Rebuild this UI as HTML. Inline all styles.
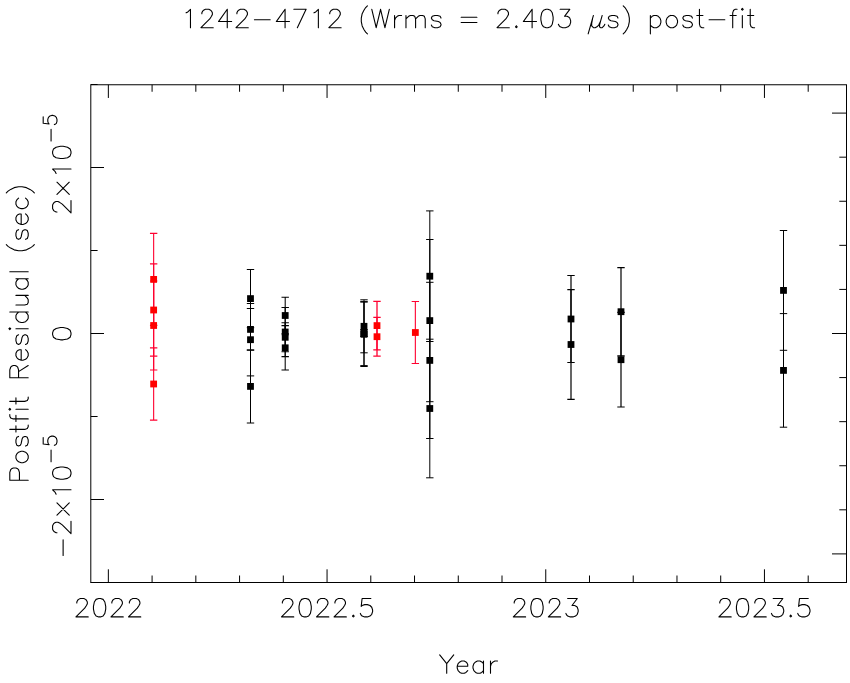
<!DOCTYPE html>
<html><head><meta charset="utf-8"><title>1242-4712 post-fit residuals</title>
<style>html,body{margin:0;padding:0;background:#fff;width:850px;height:683px;overflow:hidden;font-family:"Liberation Sans",sans-serif}svg{display:block}</style>
</head><body>
<svg width="850" height="683" viewBox="0 0 850 683">
<rect width="850" height="683" fill="#fff"/>
<g fill="none" stroke="#000" stroke-width="1">
<path d="M108.35 582.5L108.35 569.3M108.35 84.76L108.35 97.96M152.09 582.5L152.09 575.5M152.09 84.76L152.09 91.76M195.83 582.5L195.83 575.5M195.83 84.76L195.83 91.76M239.57 582.5L239.57 575.5M239.57 84.76L239.57 91.76M283.31 582.5L283.31 575.5M283.31 84.76L283.31 91.76M327.05 582.5L327.05 569.3M327.05 84.76L327.05 97.96M370.79 582.5L370.79 575.5M370.79 84.76L370.79 91.76M414.53 582.5L414.53 575.5M414.53 84.76L414.53 91.76M458.27 582.5L458.27 575.5M458.27 84.76L458.27 91.76M502.01 582.5L502.01 575.5M502.01 84.76L502.01 91.76M545.75 582.5L545.75 569.3M545.75 84.76L545.75 97.96M589.49 582.5L589.49 575.5M589.49 84.76L589.49 91.76M633.23 582.5L633.23 575.5M633.23 84.76L633.23 91.76M676.97 582.5L676.97 575.5M676.97 84.76L676.97 91.76M720.71 582.5L720.71 575.5M720.71 84.76L720.71 91.76M764.45 582.5L764.45 569.3M764.45 84.76L764.45 97.96M808.19 582.5L808.19 575.5M808.19 84.76L808.19 91.76M90.8 582.5L97.6 582.5M90.8 499.5L104 499.5M90.8 416.5L97.6 416.5M90.8 333.5L104 333.5M90.8 250.5L97.6 250.5M90.8 167.5L104 167.5M90.8 84.5L97.6 84.5M846.5 553.9L832 553.9M846.5 509.82L839.3 509.82M846.5 465.74L839.3 465.74M846.5 421.66L839.3 421.66M846.5 377.58L839.3 377.58M846.5 333.5L832 333.5M846.5 289.42L839.3 289.42M846.5 245.34L839.3 245.34M846.5 201.26L839.3 201.26M846.5 157.18L839.3 157.18M846.5 113.1L832 113.1"/>
<rect x="90.8" y="84.76" width="755.7" height="497.74"/>
</g>
<g fill="none" stroke-width="1">
<path d="M153.65 233.4L153.65 325.4M149.95 233.4L157.35 233.4M149.95 325.4L157.35 325.4" stroke="#ff0030" stroke-width="1.1"/>
<path d="M153.65 263.9L153.65 356.1M149.95 263.9L157.35 263.9M149.95 356.1L157.35 356.1" stroke="#ff0030" stroke-width="1.1"/>
<path d="M153.65 281L153.65 370M149.95 281L157.35 281M149.95 370L157.35 370" stroke="#ff0030" stroke-width="1.1"/>
<path d="M153.65 347.9L153.65 420.1M149.95 347.9L157.35 347.9M149.95 420.1L157.35 420.1" stroke="#ff0030" stroke-width="1.1"/>
<path d="M250.5 269.5L250.5 327.7M246.8 269.5L254.2 269.5M246.8 327.7L254.2 327.7" stroke="#000" stroke-width="1.0"/>
<path d="M250.5 308.5L250.5 350.3M246.8 308.5L254.2 308.5M246.8 350.3L254.2 350.3" stroke="#000" stroke-width="1.0"/>
<path d="M250.5 303.5L250.5 375.9M246.8 303.5L254.2 303.5M246.8 375.9L254.2 375.9" stroke="#000" stroke-width="1.0"/>
<path d="M250.5 349.8L250.5 423M246.8 349.8L254.2 349.8M246.8 423L254.2 423" stroke="#000" stroke-width="1.0"/>
<path d="M285.2 297.2L285.2 333.8M281.5 297.2L288.9 297.2M281.5 333.8L288.9 333.8" stroke="#000" stroke-width="1.05"/>
<path d="M285.2 307.4L285.2 356.6M281.5 307.4L288.9 307.4M281.5 356.6L288.9 356.6" stroke="#000" stroke-width="1.05"/>
<path d="M285.2 322.8L285.2 351.8M281.5 322.8L288.9 322.8M281.5 351.8L288.9 351.8" stroke="#000" stroke-width="1.05"/>
<path d="M285.2 325.6L285.2 370M281.5 325.6L288.9 325.6M281.5 370L288.9 370" stroke="#000" stroke-width="1.05"/>
<path d="M364 299.8L364 352.8M360.3 299.8L367.7 299.8M360.3 352.8L367.7 352.8" stroke="#000" stroke-width="1.0"/>
<path d="M364 301.6L364 365.6M360.3 301.6L367.7 301.6M360.3 365.6L367.7 365.6" stroke="#000" stroke-width="1.0"/>
<path d="M364 302.1L364 366.5M360.3 302.1L367.7 302.1M360.3 366.5L367.7 366.5" stroke="#000" stroke-width="1.0"/>
<path d="M364 329.5L364 336.5M360.3 329.5L367.7 329.5M360.3 336.5L367.7 336.5" stroke="#000" stroke-width="1.0"/>
<path d="M377 301.4L377 349.8M373.3 301.4L380.7 301.4M373.3 349.8L380.7 349.8" stroke="#ff0030" stroke-width="1.3"/>
<path d="M377 317.3L377 356.1M373.3 317.3L380.7 317.3M373.3 356.1L380.7 356.1" stroke="#ff0030" stroke-width="1.3"/>
<path d="M415.35 301.5L415.35 363.5M411.65 301.5L419.05 301.5M411.65 363.5L419.05 363.5" stroke="#ff0030" stroke-width="1.1"/>
<path d="M429.8 210.9L429.8 341.5M426.1 210.9L433.5 210.9M426.1 341.5L433.5 341.5" stroke="#000" stroke-width="1.0"/>
<path d="M429.8 239.5L429.8 401.7M426.1 239.5L433.5 239.5M426.1 401.7L433.5 401.7" stroke="#000" stroke-width="1.0"/>
<path d="M429.8 282.3L429.8 438.5M426.1 282.3L433.5 282.3M426.1 438.5L433.5 438.5" stroke="#000" stroke-width="1.0"/>
<path d="M429.8 339.2L429.8 477.8M426.1 339.2L433.5 339.2M426.1 477.8L433.5 477.8" stroke="#000" stroke-width="1.0"/>
<path d="M571 275.5L571 362.5M567.3 275.5L574.7 275.5M567.3 362.5L574.7 362.5" stroke="#000" stroke-width="1.2"/>
<path d="M571 289.6L571 399.4M567.3 289.6L574.7 289.6M567.3 399.4L574.7 399.4" stroke="#000" stroke-width="1.2"/>
<path d="M621 267.6L621 355.8M617.3 267.6L624.7 267.6M617.3 355.8L624.7 355.8" stroke="#000" stroke-width="1.2"/>
<path d="M621 312.4L621 407M617.3 312.4L624.7 312.4M617.3 407L624.7 407" stroke="#000" stroke-width="1.2"/>
<path d="M783.5 230.5L783.5 350.3M779.8 230.5L787.2 230.5M779.8 350.3L787.2 350.3" stroke="#000" stroke-width="1.0"/>
<path d="M783.5 313.6L783.5 427.2M779.8 313.6L787.2 313.6M779.8 427.2L787.2 427.2" stroke="#000" stroke-width="1.0"/>
</g>
<g stroke="none">
<rect x="150.25" y="276" width="6.8" height="6.8" fill="#ff0000"/>
<rect x="150.25" y="306.6" width="6.8" height="6.8" fill="#ff0000"/>
<rect x="150.25" y="322.1" width="6.8" height="6.8" fill="#ff0000"/>
<rect x="150.25" y="380.6" width="6.8" height="6.8" fill="#ff0000"/>
<rect x="247.1" y="295.2" width="6.8" height="6.8" fill="#000"/>
<rect x="247.1" y="326" width="6.8" height="6.8" fill="#000"/>
<rect x="247.1" y="336.3" width="6.8" height="6.8" fill="#000"/>
<rect x="247.1" y="383" width="6.8" height="6.8" fill="#000"/>
<rect x="281.8" y="312.1" width="6.8" height="6.8" fill="#000"/>
<rect x="281.8" y="328.6" width="6.8" height="6.8" fill="#000"/>
<rect x="281.8" y="333.9" width="6.8" height="6.8" fill="#000"/>
<rect x="281.8" y="344.4" width="6.8" height="6.8" fill="#000"/>
<rect x="360.6" y="322.9" width="6.8" height="6.8" fill="#000"/>
<rect x="360.6" y="330.2" width="6.8" height="6.8" fill="#000"/>
<rect x="360.6" y="330.9" width="6.8" height="6.8" fill="#000"/>
<rect x="360.6" y="329.6" width="6.8" height="6.8" fill="#000"/>
<rect x="373.6" y="322.2" width="6.8" height="6.8" fill="#ff0000"/>
<rect x="373.6" y="333.3" width="6.8" height="6.8" fill="#ff0000"/>
<rect x="411.95" y="329.1" width="6.8" height="6.8" fill="#ff0000"/>
<rect x="426.4" y="272.8" width="6.8" height="6.8" fill="#000"/>
<rect x="426.4" y="317.2" width="6.8" height="6.8" fill="#000"/>
<rect x="426.4" y="357" width="6.8" height="6.8" fill="#000"/>
<rect x="426.4" y="405.1" width="6.8" height="6.8" fill="#000"/>
<rect x="567.6" y="315.6" width="6.8" height="6.8" fill="#000"/>
<rect x="567.6" y="341.1" width="6.8" height="6.8" fill="#000"/>
<rect x="617.6" y="308.3" width="6.8" height="6.8" fill="#000"/>
<rect x="617.6" y="356.3" width="6.8" height="6.8" fill="#000"/>
<rect x="780.1" y="287" width="6.8" height="6.8" fill="#000"/>
<rect x="780.1" y="367" width="6.8" height="6.8" fill="#000"/>
</g>
<g fill="none" stroke="#000" stroke-width="1.1" stroke-linecap="round" stroke-linejoin="round">
<path d="M186.09 12.81 187.84 11.93 190.47 9.3 190.47 27.7M201.86 13.68 201.86 12.81 202.73 11.06 203.61 10.18 205.36 9.3 208.87 9.3 210.62 10.18 211.49 11.06 212.37 12.81 212.37 14.56 211.49 16.31 209.74 18.94 200.98 27.7 213.25 27.7M227.26 9.3 218.5 21.57 231.64 21.57M227.26 9.3 227.26 27.7M236.9 13.68 236.9 12.81 237.77 11.06 238.65 10.18 240.4 9.3 243.91 9.3 245.66 10.18 246.53 11.06 247.41 12.81 247.41 14.56 246.53 16.31 244.78 18.94 236.02 27.7 248.29 27.7M254.42 19.82 270.19 19.82M285.08 9.3 276.32 21.57 289.46 21.57M285.08 9.3 285.08 27.7M306.1 9.3 297.34 27.7M293.84 9.3 306.1 9.3M313.99 12.81 315.74 11.93 318.37 9.3 318.37 27.7M329.75 13.68 329.75 12.81 330.63 11.06 331.51 10.18 333.26 9.3 336.76 9.3 338.51 10.18 339.39 11.06 340.27 12.81 340.27 14.56 339.39 16.31 337.64 18.94 328.88 27.7 341.14 27.7M367.42 5.8 365.67 7.55 363.92 10.18 362.17 13.68 361.29 18.06 361.29 21.57 362.17 25.95 363.92 29.45 365.67 32.08 367.42 33.83M371.8 9.3 376.18 27.7M380.56 9.3 376.18 27.7M380.56 9.3 384.94 27.7M389.32 9.3 384.94 27.7M394.58 15.44 394.58 27.7M394.58 20.69 395.45 18.06 397.21 16.31 398.96 15.44 401.59 15.44M405.97 15.44 405.97 27.7M405.97 18.94 408.59 16.31 410.35 15.44 412.97 15.44 414.73 16.31 415.6 18.94 415.6 27.7M415.6 18.94 418.23 16.31 419.98 15.44 422.61 15.44 424.36 16.31 425.24 18.94 425.24 27.7M441.01 18.06 440.13 16.31 437.5 15.44 434.87 15.44 432.25 16.31 431.37 18.06 432.25 19.82 434 20.69 438.38 21.57 440.13 22.44 441.01 24.2 441.01 25.07 440.13 26.82 437.5 27.7 434.87 27.7 432.25 26.82 431.37 25.07M461.15 17.19 476.92 17.19M461.15 22.44 476.92 22.44M497.95 13.68 497.95 12.81 498.82 11.06 499.7 10.18 501.45 9.3 504.95 9.3 506.71 10.18 507.58 11.06 508.46 12.81 508.46 14.56 507.58 16.31 505.83 18.94 497.07 27.7 509.33 27.7M516.34 25.95 515.47 26.82 516.34 27.7 517.22 26.82 516.34 25.95M532.11 9.3 523.35 21.57 536.49 21.57M532.11 9.3 532.11 27.7M546.13 9.3 543.5 10.18 541.75 12.81 540.87 17.19 540.87 19.82 541.75 24.2 543.5 26.82 546.13 27.7 547.88 27.7 550.51 26.82 552.26 24.2 553.13 19.82 553.13 17.19 552.26 12.81 550.51 10.18 547.88 9.3 546.13 9.3M560.14 9.3 569.78 9.3 564.52 16.31 567.15 16.31 568.9 17.19 569.78 18.06 570.65 20.69 570.65 22.44 569.78 25.07 568.03 26.82 565.4 27.7 562.77 27.7 560.14 26.82 559.27 25.95 558.39 24.2M593.43 15.44 588.17 33.83M592.55 18.94 591.68 23.32 591.68 25.95 593.43 27.7 595.18 27.7 596.93 26.82 598.69 25.07 600.44 21.57M602.19 15.44 600.44 21.57 599.56 25.07 599.56 26.82 600.44 27.7 602.19 27.7 603.94 25.95 604.82 24.2M617.96 18.06 617.08 16.31 614.45 15.44 611.83 15.44 609.2 16.31 608.32 18.06 609.2 19.82 610.95 20.69 615.33 21.57 617.08 22.44 617.96 24.2 617.96 25.07 617.08 26.82 614.45 27.7 611.83 27.7 609.2 26.82 608.32 25.07M623.21 5.8 624.97 7.55 626.72 10.18 628.47 13.68 629.35 18.06 629.35 21.57 628.47 25.95 626.72 29.45 624.97 32.08 623.21 33.83M650.37 15.44 650.37 33.83M650.37 18.06 652.12 16.31 653.87 15.44 656.5 15.44 658.25 16.31 660.01 18.06 660.88 20.69 660.88 22.44 660.01 25.07 658.25 26.82 656.5 27.7 653.87 27.7 652.12 26.82 650.37 25.07M670.52 15.44 668.77 16.31 667.01 18.06 666.14 20.69 666.14 22.44 667.01 25.07 668.77 26.82 670.52 27.7 673.15 27.7 674.9 26.82 676.65 25.07 677.53 22.44 677.53 20.69 676.65 18.06 674.9 16.31 673.15 15.44 670.52 15.44M692.42 18.06 691.54 16.31 688.91 15.44 686.29 15.44 683.66 16.31 682.78 18.06 683.66 19.82 685.41 20.69 689.79 21.57 691.54 22.44 692.42 24.2 692.42 25.07 691.54 26.82 688.91 27.7 686.29 27.7 683.66 26.82 682.78 25.07M699.43 9.3 699.43 24.2 700.3 26.82 702.05 27.7 703.81 27.7M696.8 15.44 702.93 15.44M709.06 19.82 724.83 19.82M737.09 9.3 735.34 9.3 733.59 10.18 732.71 12.81 732.71 27.7M730.09 15.44 736.22 15.44M741.47 9.3 742.35 10.18 743.23 9.3 742.35 8.43 741.47 9.3M742.35 15.44 742.35 27.7M750.23 9.3 750.23 24.2 751.11 26.82 752.86 27.7 754.61 27.7M747.61 15.44 753.74 15.44M76.81 602.88 76.81 602.01 77.69 600.26 78.57 599.38 80.32 598.5 83.82 598.5 85.57 599.38 86.45 600.26 87.33 602.01 87.33 603.76 86.45 605.51 84.7 608.14 75.94 616.9 88.2 616.9M98.71 598.5 96.09 599.38 94.33 602.01 93.46 606.39 93.46 609.02 94.33 613.4 96.09 616.02 98.71 616.9 100.47 616.9 103.09 616.02 104.85 613.4 105.72 609.02 105.72 606.39 104.85 602.01 103.09 599.38 100.47 598.5 98.71 598.5M111.85 602.88 111.85 602.01 112.73 600.26 113.61 599.38 115.36 598.5 118.86 598.5 120.61 599.38 121.49 600.26 122.37 602.01 122.37 603.76 121.49 605.51 119.74 608.14 110.98 616.9 123.24 616.9M129.37 602.88 129.37 602.01 130.25 600.26 131.13 599.38 132.88 598.5 136.38 598.5 138.13 599.38 139.01 600.26 139.89 602.01 139.89 603.76 139.01 605.51 137.26 608.14 128.5 616.9 140.76 616.9M282.37 602.88 282.37 602.01 283.25 600.26 284.13 599.38 285.88 598.5 289.38 598.5 291.13 599.38 292.01 600.26 292.89 602.01 292.89 603.76 292.01 605.51 290.26 608.14 281.5 616.9 293.76 616.9M304.27 598.5 301.65 599.38 299.89 602.01 299.02 606.39 299.02 609.02 299.89 613.4 301.65 616.02 304.27 616.9 306.03 616.9 308.65 616.02 310.41 613.4 311.28 609.02 311.28 606.39 310.41 602.01 308.65 599.38 306.03 598.5 304.27 598.5M317.41 602.88 317.41 602.01 318.29 600.26 319.17 599.38 320.92 598.5 324.42 598.5 326.17 599.38 327.05 600.26 327.93 602.01 327.93 603.76 327.05 605.51 325.3 608.14 316.54 616.9 328.8 616.9M334.93 602.88 334.93 602.01 335.81 600.26 336.69 599.38 338.44 598.5 341.94 598.5 343.69 599.38 344.57 600.26 345.45 602.01 345.45 603.76 344.57 605.51 342.82 608.14 334.06 616.9 346.32 616.9M353.33 615.15 352.45 616.02 353.33 616.9 354.21 616.02 353.33 615.15M370.85 598.5 362.09 598.5 361.21 606.39 362.09 605.51 364.72 604.64 367.35 604.64 369.97 605.51 371.73 607.26 372.6 609.89 372.6 611.64 371.73 614.27 369.97 616.02 367.35 616.9 364.72 616.9 362.09 616.02 361.21 615.15 360.34 613.4M514.21 602.88 514.21 602.01 515.09 600.26 515.97 599.38 517.72 598.5 521.22 598.5 522.97 599.38 523.85 600.26 524.73 602.01 524.73 603.76 523.85 605.51 522.1 608.14 513.34 616.9 525.6 616.9M536.11 598.5 533.49 599.38 531.73 602.01 530.86 606.39 530.86 609.02 531.73 613.4 533.49 616.02 536.11 616.9 537.87 616.9 540.49 616.02 542.25 613.4 543.12 609.02 543.12 606.39 542.25 602.01 540.49 599.38 537.87 598.5 536.11 598.5M549.25 602.88 549.25 602.01 550.13 600.26 551.01 599.38 552.76 598.5 556.26 598.5 558.01 599.38 558.89 600.26 559.77 602.01 559.77 603.76 558.89 605.51 557.14 608.14 548.38 616.9 560.64 616.9M567.65 598.5 577.29 598.5 572.03 605.51 574.66 605.51 576.41 606.39 577.29 607.26 578.16 609.89 578.16 611.64 577.29 614.27 575.53 616.02 572.91 616.9 570.28 616.9 567.65 616.02 566.77 615.15 565.9 613.4M719.77 602.88 719.77 602.01 720.65 600.26 721.53 599.38 723.28 598.5 726.78 598.5 728.53 599.38 729.41 600.26 730.29 602.01 730.29 603.76 729.41 605.51 727.66 608.14 718.9 616.9 731.16 616.9M741.67 598.5 739.05 599.38 737.29 602.01 736.42 606.39 736.42 609.02 737.29 613.4 739.05 616.02 741.67 616.9 743.43 616.9 746.05 616.02 747.81 613.4 748.68 609.02 748.68 606.39 747.81 602.01 746.05 599.38 743.43 598.5 741.67 598.5M754.81 602.88 754.81 602.01 755.69 600.26 756.57 599.38 758.32 598.5 761.82 598.5 763.57 599.38 764.45 600.26 765.33 602.01 765.33 603.76 764.45 605.51 762.7 608.14 753.94 616.9 766.2 616.9M773.21 598.5 782.85 598.5 777.59 605.51 780.22 605.51 781.97 606.39 782.85 607.26 783.72 609.89 783.72 611.64 782.85 614.27 781.09 616.02 778.47 616.9 775.84 616.9 773.21 616.02 772.33 615.15 771.46 613.4M790.73 615.15 789.85 616.02 790.73 616.9 791.61 616.02 790.73 615.15M808.25 598.5 799.49 598.5 798.61 606.39 799.49 605.51 802.12 604.64 804.75 604.64 807.37 605.51 809.13 607.26 810 609.89 810 611.64 809.13 614.27 807.37 616.02 804.75 616.9 802.12 616.9 799.49 616.02 798.61 615.15 797.74 613.4M439.69 654.9 446.7 663.66 446.7 673.3M453.71 654.9 446.7 663.66M457.21 666.29 467.72 666.29 467.72 664.54 466.85 662.79 465.97 661.91 464.22 661.04 461.59 661.04 459.84 661.91 458.09 663.66 457.21 666.29 457.21 668.04 458.09 670.67 459.84 672.42 461.59 673.3 464.22 673.3 465.97 672.42 467.72 670.67M483.49 661.04 483.49 673.3M483.49 663.66 481.74 661.91 479.99 661.04 477.36 661.04 475.61 661.91 473.86 663.66 472.98 666.29 472.98 668.04 473.86 670.67 475.61 672.42 477.36 673.3 479.99 673.3 481.74 672.42 483.49 670.67M490.5 661.04 490.5 673.3M490.5 666.29 491.38 663.66 493.13 661.91 494.88 661.04 497.51 661.04M9.8 480.23 28.2 480.23M9.8 480.23 9.8 472.35 10.68 469.72 11.56 468.84 13.31 467.97 15.94 467.97 17.69 468.84 18.56 469.72 19.44 472.35 19.44 480.23M15.94 458.33 16.81 460.08 18.56 461.83 21.19 462.71 22.94 462.71 25.57 461.83 27.32 460.08 28.2 458.33 28.2 455.7 27.32 453.95 25.57 452.2 22.94 451.32 21.19 451.32 18.56 452.2 16.81 453.95 15.94 455.7 15.94 458.33M18.56 436.43 16.81 437.31 15.94 439.93 15.94 442.56 16.81 445.19 18.56 446.07 20.32 445.19 21.19 443.44 22.07 439.06 22.94 437.31 24.7 436.43 25.57 436.43 27.32 437.31 28.2 439.93 28.2 442.56 27.32 445.19 25.57 446.07M9.8 429.42 24.7 429.42 27.32 428.55 28.2 426.79 28.2 425.04M15.94 432.05 15.94 425.92M9.8 414.53 9.8 416.28 10.68 418.03 13.31 418.91 28.2 418.91M15.94 421.54 15.94 415.41M9.8 410.15 10.68 409.27 9.8 408.4 8.93 409.27 9.8 410.15M15.94 409.27 28.2 409.27M9.8 401.39 24.7 401.39 27.32 400.51 28.2 398.76 28.2 397.01M15.94 404.02 15.94 397.89M9.8 377.74 28.2 377.74M9.8 377.74 9.8 369.85 10.68 367.23 11.56 366.35 13.31 365.47 15.06 365.47 16.81 366.35 17.69 367.23 18.56 369.85 18.56 377.74M18.56 371.61 28.2 365.47M21.19 360.22 21.19 349.71 19.44 349.71 17.69 350.58 16.81 351.46 15.94 353.21 15.94 355.84 16.81 357.59 18.56 359.34 21.19 360.22 22.94 360.22 25.57 359.34 27.32 357.59 28.2 355.84 28.2 353.21 27.32 351.46 25.57 349.71M18.56 334.81 16.81 335.69 15.94 338.32 15.94 340.95 16.81 343.57 18.56 344.45 20.32 343.57 21.19 341.82 22.07 337.44 22.94 335.69 24.7 334.81 25.57 334.81 27.32 335.69 28.2 338.32 28.2 340.95 27.32 343.57 25.57 344.45M9.8 329.56 10.68 328.68 9.8 327.81 8.93 328.68 9.8 329.56M15.94 328.68 28.2 328.68M9.8 312.04 28.2 312.04M18.56 312.04 16.81 313.79 15.94 315.54 15.94 318.17 16.81 319.92 18.56 321.67 21.19 322.55 22.94 322.55 25.57 321.67 27.32 319.92 28.2 318.17 28.2 315.54 27.32 313.79 25.57 312.04M15.94 305.03 24.7 305.03 27.32 304.15 28.2 302.4 28.2 299.77 27.32 298.02 24.7 295.39M15.94 295.39 28.2 295.39M15.94 278.75 28.2 278.75M18.56 278.75 16.81 280.5 15.94 282.25 15.94 284.88 16.81 286.63 18.56 288.39 21.19 289.26 22.94 289.26 25.57 288.39 27.32 286.63 28.2 284.88 28.2 282.25 27.32 280.5 25.57 278.75M9.8 271.74 28.2 271.74M6.3 244.59 8.05 246.34 10.68 248.09 14.18 249.84 18.56 250.72 22.07 250.72 26.45 249.84 29.95 248.09 32.58 246.34 34.33 244.59M18.56 229.69 16.81 230.57 15.94 233.2 15.94 235.83 16.81 238.45 18.56 239.33 20.32 238.45 21.19 236.7 22.07 232.32 22.94 230.57 24.7 229.69 25.57 229.69 27.32 230.57 28.2 233.2 28.2 235.83 27.32 238.45 25.57 239.33M21.19 224.44 21.19 213.93 19.44 213.93 17.69 214.8 16.81 215.68 15.94 217.43 15.94 220.06 16.81 221.81 18.56 223.56 21.19 224.44 22.94 224.44 25.57 223.56 27.32 221.81 28.2 220.06 28.2 217.43 27.32 215.68 25.57 213.93M18.56 198.16 16.81 199.91 15.94 201.66 15.94 204.29 16.81 206.04 18.56 207.79 21.19 208.67 22.94 208.67 25.57 207.79 27.32 206.04 28.2 204.29 28.2 201.66 27.32 199.91 25.57 198.16M6.3 192.9 8.05 191.15 10.68 189.4 14.18 187.65 18.56 186.77 22.07 186.77 26.45 187.65 29.95 189.4 32.58 191.15 34.33 192.9M56.98 212 56.11 212 54.36 211.12 53.48 210.24 52.6 208.49 52.6 204.99 53.48 203.24 54.36 202.36 56.11 201.48 57.86 201.48 59.61 202.36 62.24 204.11 71 212.87 71 200.61M56.98 194.48 69.25 182.21M56.98 182.21 69.25 194.48M56.11 173.45 55.23 171.7 52.6 169.07 71 169.07M52.6 153.3 53.48 155.93 56.11 157.68 60.49 158.56 63.12 158.56 67.5 157.68 70.12 155.93 71 153.3 71 151.55 70.12 148.92 67.5 147.17 63.12 146.3 60.49 146.3 56.11 147.17 53.48 148.92 52.6 151.55 52.6 153.3M51.07 141.04 51.07 129.21M43.19 116.73 43.19 123.3 49.1 123.96 48.44 123.3 47.79 121.33 47.79 119.36 48.44 117.39 49.76 116.07 51.73 115.42 53.04 115.42 55.01 116.07 56.33 117.39 56.98 119.36 56.98 121.33 56.33 123.3 55.67 123.96 54.36 124.61M52.6 334.58 53.48 337.2 56.11 338.96 60.49 339.83 63.12 339.83 67.5 338.96 70.12 337.2 71 334.58 71 332.82 70.12 330.2 67.5 328.44 63.12 327.57 60.49 327.57 56.11 328.44 53.48 330.2 52.6 332.82 52.6 334.58M63.12 555.5 63.12 539.73M56.98 532.72 56.11 532.72 54.36 531.84 53.48 530.97 52.6 529.22 52.6 525.71 53.48 523.96 54.36 523.08 56.11 522.21 57.86 522.21 59.61 523.08 62.24 524.84 71 533.6 71 521.33M56.98 515.2 69.25 502.94M56.98 502.94 69.25 515.2M56.11 494.18 55.23 492.42 52.6 489.8 71 489.8M52.6 474.03 53.48 476.66 56.11 478.41 60.49 479.28 63.12 479.28 67.5 478.41 70.12 476.66 71 474.03 71 472.28 70.12 469.65 67.5 467.9 63.12 467.02 60.49 467.02 56.11 467.9 53.48 469.65 52.6 472.28 52.6 474.03M51.07 461.76 51.07 449.94M43.19 437.45 43.19 444.02 49.1 444.68 48.44 444.02 47.79 442.05 47.79 440.08 48.44 438.11 49.76 436.8 51.73 436.14 53.04 436.14 55.01 436.8 56.33 438.11 56.98 440.08 56.98 442.05 56.33 444.02 55.67 444.68 54.36 445.34"/>
</g>
</svg>
</body></html>
